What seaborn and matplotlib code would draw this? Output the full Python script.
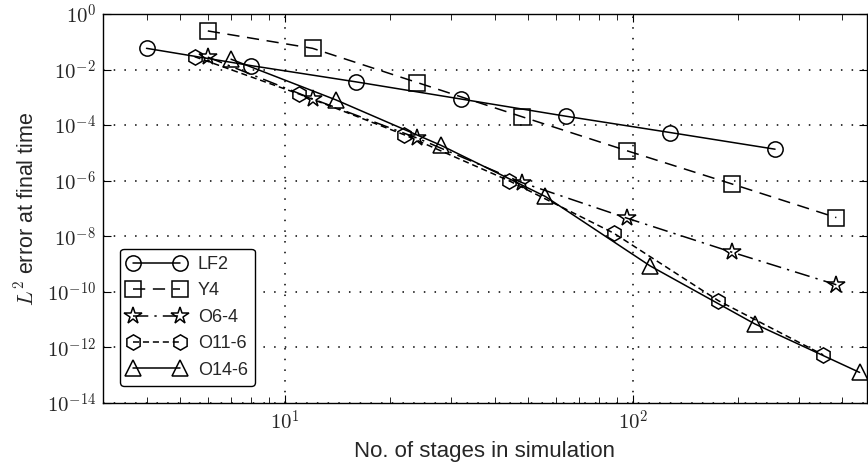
import numpy as np
import pandas as pd
import matplotlib
matplotlib.use("Agg")
import matplotlib.pyplot as plt
import seaborn as sns

# Data
lf2_x = [4, 8, 16, 32, 64, 128, 256]
lf2_y = [5.8e-2, 1.38e-2, 3.6e-3, 8.7e-4, 2.1e-4, 5.4e-5, 1.36e-5]
y4_x = [6, 12, 24, 48, 96, 192, 384]
y4_y = [2.45e-1, 5.8e-2, 3.4e-3, 2.0e-4, 1.2e-5, 7.7e-7, 4.7e-8]
o64_x = [6, 12, 24, 48, 96, 192, 384]
o64_y = [2.8e-2, 8.8e-4, 3.4e-5, 8.5e-7, 4.5e-8, 2.7e-9, 1.8e-10]
o116_x = [5.5, 11, 22, 44, 88, 176, 352]
o116_y = [2.9e-2, 1.3e-3, 4.5e-5, 1.0e-6, 1.3e-8, 4.8e-11, 5.4e-13]
o146_x = [7, 14, 28, 56, 112, 224, 448]
o146_y = [2.35e-2, 8.1e-4, 1.9e-5, 2.7e-7, 8.6e-10, 7.0e-12, 1.26e-13]

series = [
    ("LF2", lf2_x, lf2_y, "o", "-"),
    ("Y4", y4_x, y4_y, "s", (0, (8, 5))),
    ("O6-4", o64_x, o64_y, "*", (0, (10, 4, 1.5, 4))),
    ("O11-6", o116_x, o116_y, "h", (0, (4, 2.5))),
    ("O14-6", o146_x, o146_y, "^", "-"),
]

sns.set_style("ticks")
plt.rcParams["font.family"] = ["Liberation Sans", "DejaVu Sans"]
plt.rcParams["mathtext.fontset"] = "cm"

fig = plt.figure(figsize=(8.68, 4.65), dpi=100)
ax = fig.add_axes([0.1187, 0.1333, 0.8800, 0.8367])

for name, xs, ys, mk, ls in series:
    df = pd.DataFrame({"x": xs, "y": ys})
    ms = 13 if mk == "*" else 11
    sns.lineplot(data=df, x="x", y="y", ax=ax, color="black", linewidth=1.1,
                 linestyle=ls, marker=mk, markersize=ms, markerfacecolor="none",
                 markeredgecolor="black", markeredgewidth=1.1, label=name,
                 estimator=None, sort=False)

ax.set_xscale("log")
ax.set_yscale("log")
ax.set_xlim(3, 470)
ax.set_ylim(1e-14, 1e0)
ax.set_yticks([10.0**k for k in range(-14, 1, 2)])
ax.set_xticks([10.0, 100.0])
ax.yaxis.set_minor_locator(matplotlib.ticker.NullLocator())
fmt = matplotlib.ticker.FuncFormatter(lambda v, p: r"$10^{%d}$" % int(round(np.log10(v))))
ax.yaxis.set_major_formatter(fmt)
ax.xaxis.set_major_formatter(fmt)
ax.xaxis.set_minor_formatter(matplotlib.ticker.NullFormatter())
ax.grid(True, which="major", color="black", linestyle=(0, (1, 6)), linewidth=1.1)
ax.tick_params(which="both", direction="in", top=True, right=True, labelsize=15,
               color="black")
ax.tick_params(which="major", length=6, pad=5)
ax.tick_params(which="minor", length=4)
for s in ax.spines.values():
    s.set_color("black")
    s.set_linewidth(1.0)

ax.set_xlabel("No. of stages in simulation", fontsize=16, labelpad=5)
ax.set_ylabel("$L^2$ error at final time", fontsize=15.5, labelpad=6)

leg = ax.legend(loc="lower left", bbox_to_anchor=(0.0, 0.0), numpoints=2,
                handlelength=3.2, fontsize=13, frameon=True, fancybox=True,
                borderaxespad=0.95, labelspacing=0.52, handletextpad=0.7)
leg.get_frame().set_edgecolor("black")
leg.get_frame().set_linewidth(1.0)
leg.get_frame().set_alpha(1)

fig.savefig("out.png", dpi=100)
